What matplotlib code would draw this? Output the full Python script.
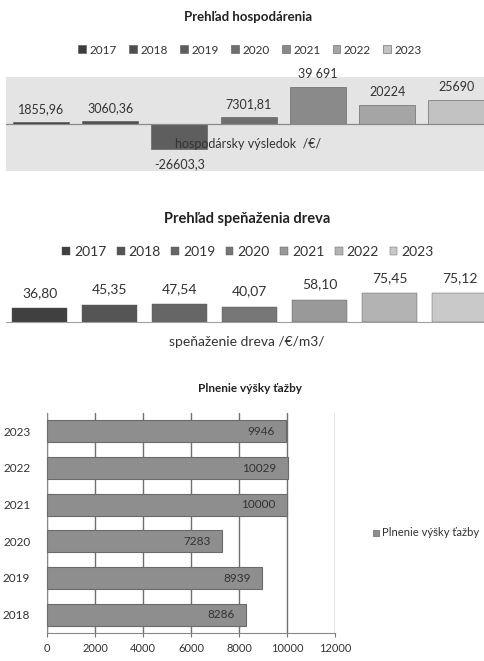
import matplotlib
matplotlib.use("Agg")
import matplotlib.pyplot as plt
from matplotlib.patches import Rectangle

plt.rcParams['font.family'] = ['Lato', 'DejaVu Sans']

# ---- data ----
years1 = ['2017', '2018', '2019', '2020', '2021', '2022', '2023']
hosp_values = [1855.96, 3060.36, -26603.3, 7301.81, 39691, 20224, 25690]
hosp_labels = ['1855,96', '3060,36', '-26603,3', '7301,81', '39 691', '20224', '25690']

spen_values = [36.80, 45.35, 47.54, 40.07, 58.10, 75.45, 75.12]
spen_labels = ['36,80', '45,35', '47,54', '40,07', '58,10', '75,45', '75,12']

years3 = ['2018', '2019', '2020', '2021', '2022', '2023']
tazba_values = [8286, 8939, 7283, 10000, 10029, 9946]
xticks3 = [0, 2000, 4000, 6000, 8000, 10000, 12000]

colors1 = ['#3d3d3d', '#4f4f4f', '#5e5e5e', '#6f6f6f', '#8a8a8a', '#a5a5a5', '#c2c2c2']
colors2 = ['#404040', '#555555', '#666666', '#777777', '#999999', '#b3b3b3', '#c9c9c9']
TXT = '#333333'

W, H = 484, 661
fig = plt.figure(figsize=(W / 100, H / 100), dpi=100)
fig.patch.set_facecolor('white')


def ax_px(x0, y0, x1, y1):
    return fig.add_axes([x0 / W, 1 - y1 / H, (x1 - x0) / W, (y1 - y0) / H])


def ftext(x, y, s, **kw):
    fig.text(x / W, 1 - y / H, s, **kw)


# ---- panel 1 ----
ax1 = ax_px(6, 77, 484, 171)
ax1.set_facecolor('#e4e4e4')
bars1 = []
for i, (v, c, yr) in enumerate(zip(hosp_values, colors1, years1)):
    b = ax1.bar(i, v, width=0.81, color=c, edgecolor='#555555', linewidth=0.4, label=yr)
    bars1.append(b)
ax1.set_xlim(-0.506, 6.40)
ax1.set_ylim(-50400, 50400)
ax1.axhline(0, color='#8a8a8a', lw=0.9)
for s in ax1.spines.values():
    s.set_visible(False)
ax1.set_xticks([]); ax1.set_yticks([])
for i, (v, lab) in enumerate(zip(hosp_values, hosp_labels)):
    off = 9.5 if v >= 0 else -11
    ax1.annotate(lab, (i, v), xytext=(0, off), textcoords='offset points',
                 ha='center', va='center', fontsize=9, color=TXT, annotation_clip=False)
ftext(248, 144, 'hospodársky výsledok  /€/', ha='center', va='center', fontsize=9, color=TXT)
ftext(248, 17, 'Prehľad hospodárenia', ha='center', va='center', fontsize=9.5,
      fontweight='bold', color='#222222')
fig.legend(handles=[b[0] for b in bars1], labels=years1, loc='center',
           bbox_to_anchor=(250 / W, 1 - 50 / H), ncol=7, frameon=False, fontsize=8.5,
           handlelength=0.65, handleheight=0.65, handletextpad=0.3, columnspacing=1.05,
           labelcolor=TXT)

# ---- panel 2 ----
ax2 = ax_px(6, 284, 484, 322)
bars2 = []
for i, (v, c, yr) in enumerate(zip(spen_values, colors2, years1)):
    b = ax2.bar(i, v, width=0.79, color=c, edgecolor='#555555', linewidth=0.3, label=yr)
    bars2.append(b)
ax2.set_xlim(-0.48, 6.35)
ax2.set_ylim(0, 100)
for s in ax2.spines.values():
    s.set_visible(False)
ax2.spines['bottom'].set_visible(True)
ax2.spines['bottom'].set_color('#a0a0a0')
ax2.set_xticks([]); ax2.set_yticks([])
for i, (v, lab) in enumerate(zip(spen_values, spen_labels)):
    ax2.annotate(lab, (i, v), xytext=(0, 11), textcoords='offset points',
                 ha='center', va='center', fontsize=10, color=TXT, annotation_clip=False)
ftext(247, 342, 'speňaženie dreva /€/m3/', ha='center', va='center', fontsize=10, color=TXT)
ftext(247, 219, 'Prehľad speňaženia dreva', ha='center', va='center', fontsize=10.5,
      fontweight='bold', color='#222222')
fig.legend(handles=[b[0] for b in bars2], labels=years1, loc='center',
           bbox_to_anchor=(248 / W, 1 - 252 / H), ncol=7, frameon=False, fontsize=10,
           handlelength=0.55, handleheight=0.55, handletextpad=0.3, columnspacing=0.75,
           labelcolor=TXT)

# ---- panel 3 ----
ax3 = ax_px(47, 413, 335, 633)
bars3 = ax3.barh(range(len(years3)), tazba_values, height=0.6, color='#8e8e8e',
                 edgecolor='#6a6a6a', linewidth=0.8, zorder=3, label='Plnenie výšky ťažby')
ax3.set_xlim(0, 12000)
ax3.set_ylim(-0.5, 5.5)
ax3.set_xticks(xticks3)
ax3.set_xticklabels([str(t) for t in xticks3], fontsize=8, color=TXT)
ax3.set_yticks(range(len(years3)))
ax3.set_yticklabels(years3, fontsize=8.5, color=TXT)
ax3.tick_params(axis='x', length=3, color='#777777', pad=4)
ax3.tick_params(axis='y', length=0, pad=12)
ax3.grid(axis='x', color='#707070', lw=1.0, zorder=0)
for s in ['top', 'right']:
    ax3.spines[s].set_visible(False)
ax3.spines['left'].set_color('#888888')
ax3.spines['bottom'].set_color('#888888')
for i, v in enumerate(tazba_values):
    ax3.annotate(str(v), (v, i), xytext=(-8, 0), textcoords='offset points',
                 ha='right', va='center', fontsize=8.5, color=TXT, zorder=4)
ftext(250, 389, 'Plnenie výšky ťažby', ha='center', va='center', fontsize=8.5,
      fontweight='bold', color='#222222')
fig.patches.append(Rectangle((373 / W, 1 - 536 / H), 6 / W, 6 / H, transform=fig.transFigure,
                             facecolor='#8e8e8e', edgecolor='#6a6a6a', lw=0.5))
ftext(382, 533, 'Plnenie výšky ťažby', ha='left', va='center', fontsize=8.1, color=TXT)

fig.savefig('out.png', dpi=100)
